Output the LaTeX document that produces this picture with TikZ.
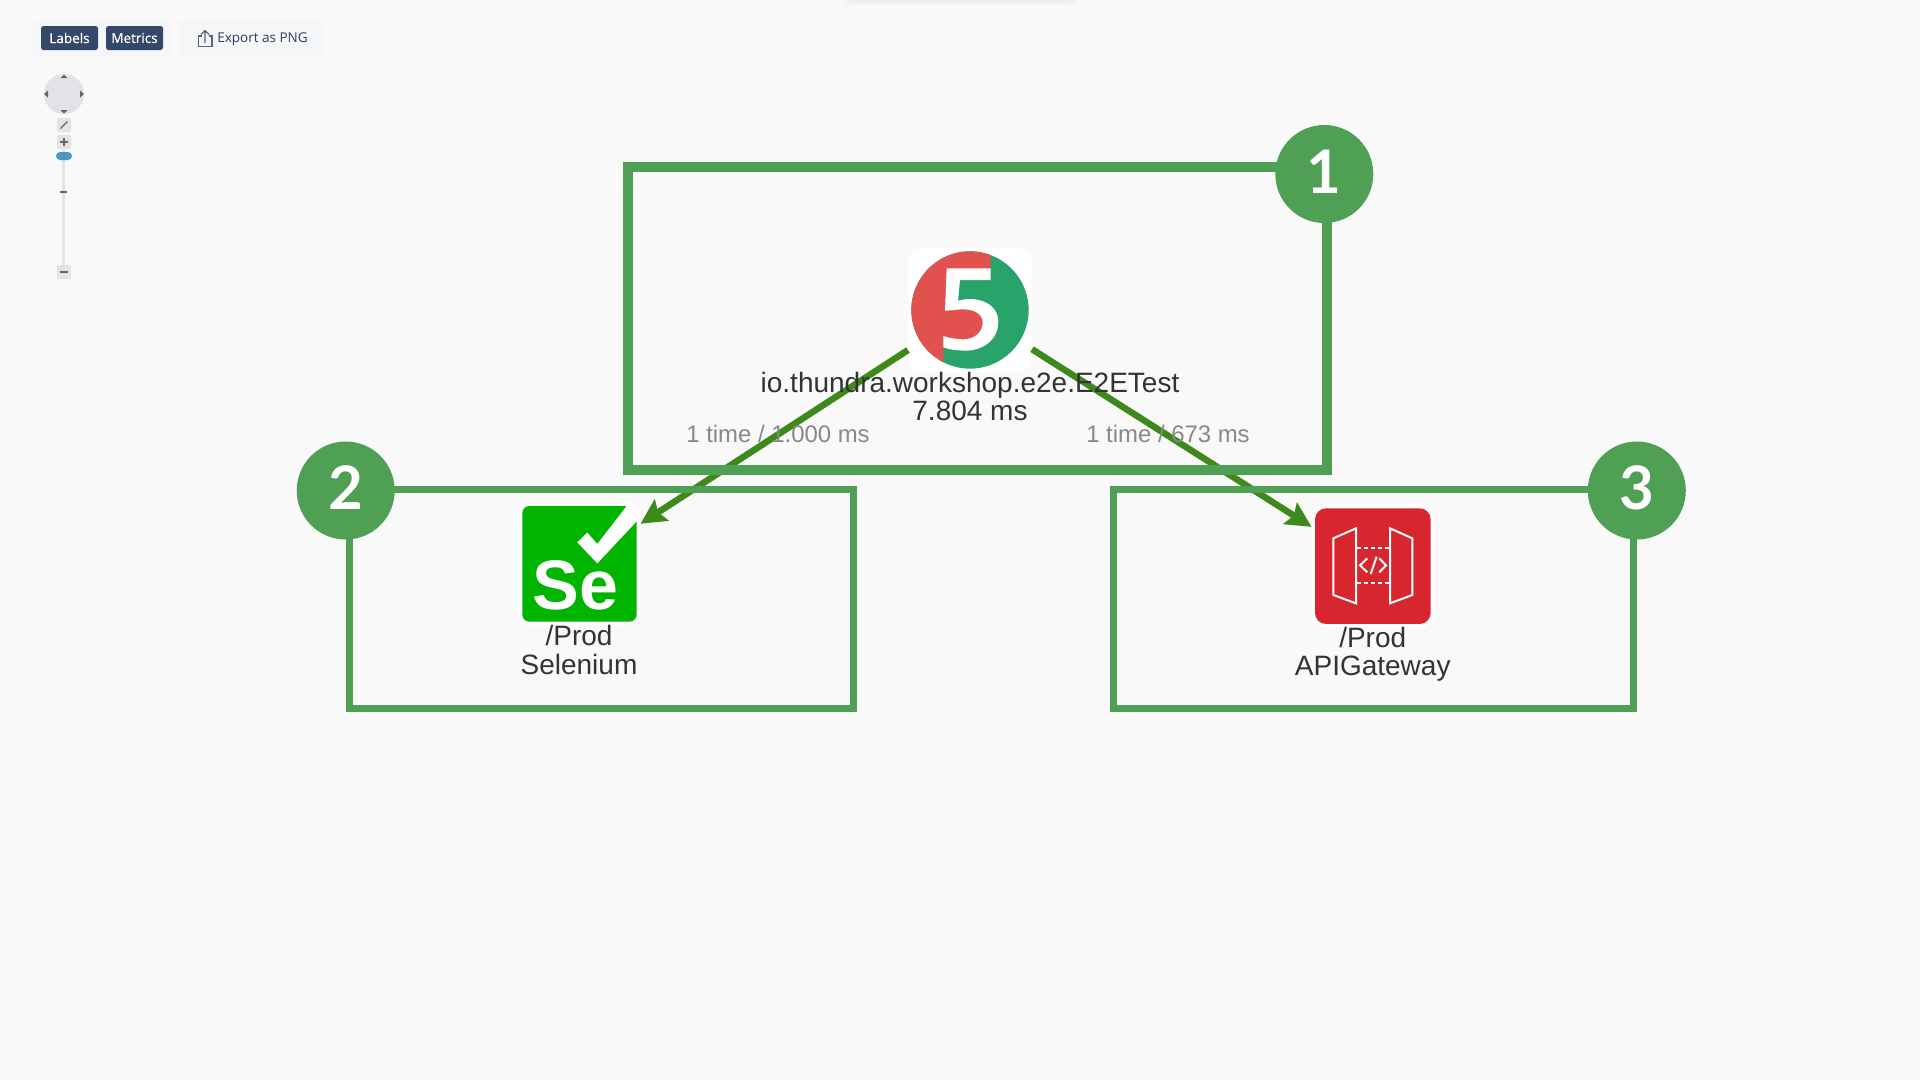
\documentclass[tikz,border=0pt]{standalone}
\usepackage{fontspec}
\setmainfont{Liberation Sans}
\newfontfamily\uifont{Open Sans}
\newfontfamily\btnfont[FakeBold=0.8]{Open Sans}
\newfontfamily\badgefont{Lato}
\usetikzlibrary{arrows.meta,positioning}
\definecolor{pageBg}{HTML}{F9F9F9}
\definecolor{panelBg}{HTML}{F5F6F8}
\definecolor{navyBtn}{HTML}{34486A}
\definecolor{navText}{HTML}{2F3E5C}
\definecolor{navGrey}{HTML}{E3E2E6}
\definecolor{navDark}{HTML}{666666}
\definecolor{sliderBlue}{HTML}{4C96C3}
\definecolor{markGreen}{HTML}{4FA055}
\definecolor{edgeGreen}{HTML}{3D8A1B}
\definecolor{junitRed}{HTML}{E1524F}
\definecolor{junitGreen}{HTML}{28A36A}
\definecolor{seGreen}{HTML}{00B400}
\definecolor{apiRed}{HTML}{D8262E}
\definecolor{nodeText}{HTML}{333333}
\definecolor{edgeText}{HTML}{888888}

\begin{document}
\begin{tikzpicture}
  [x=1pt,y=-1pt,
   iconN/.style={fill=white,rounded corners=13pt,minimum size=123pt,inner sep=0pt,outer sep=0pt},
   nameN/.style={text=nodeText,align=center,inner sep=0pt,font=\fontsize{28}{28.5}\selectfont},
   timeN/.style={text=edgeText,inner sep=0pt,font=\fontsize{23.9}{26}\selectfont},
   flowEdge/.style={edgeGreen,line width=6.5pt,-{Stealth[length=25pt,width=25pt,inset=4pt]}},
   groupN/.style={draw=markGreen,inner sep=0pt,outer sep=0pt},
   badgeN/.style={circle,fill=markGreen,text=white,minimum size=98pt,inner sep=0pt,text height=45pt,text depth=7pt,font=\badgefont\bfseries\fontsize{60}{60}\selectfont},
   panelN/.style={fill=panelBg,rounded corners=3pt,inner sep=0pt},
   btnN/.style={fill=navyBtn,text=white,rounded corners=2.5pt,minimum width=57pt,minimum height=24pt,inner sep=0pt,font=\btnfont\fontsize{13.5}{14}\selectfont},
   zoomBtn/.style={fill=navGrey,rounded corners=2pt,minimum size=14pt,inner sep=0pt},
   whiteLine/.style={white,line width=2pt},
  ]

 \fill[pageBg] (0,0) rectangle (1920,1080);
 % shadow at the top edge
 \foreach \s in {0,1,2,3,4,5}
   \fill[black,opacity=0.006] (843+2*\s,0) rectangle (1078-2*\s,5.5-0.8*\s);

 % toolbar
 \node[panelN,minimum width=138pt,minimum height=36pt] (tools)  at (102,38)  {};
 \node[panelN,minimum width=145pt,minimum height=36pt] (export) at (250.5,38) {};
 \node[btnN] (labels)  at (69.5,38)  {Labels};
 \node[btnN] (metrics) at (134.5,38) {Metrics};
 \node[text=navText,inner sep=0pt,font=\uifont\fontsize{13.5}{14}\selectfont] (exportT) at (262.5,39.5) {Export as PNG};
 \draw[navText!80,line width=1.3pt] (202,36) -- (198.5,36) -- (198.5,46.5) -- (212,46.5) -- (212,36) -- (208.5,36);
 \draw[navText!80,line width=1.3pt] (205,43) -- (205,30.5) (201,34.5) -- (205,30.5) -- (209,34.5);

 % zoom and pan
 \node[circle,fill=navGrey,minimum size=40pt,inner sep=0pt] (pan) at (64,94) {};
 \fill[navDark] (64,74.5) -- (60.5,78) -- (67.5,78) -- cycle;
 \fill[navDark] (64,113.5) -- (60.5,110) -- (67.5,110) -- cycle;
 \fill[navDark] (44,94) -- (48,90.5) -- (48,97.5) -- cycle;
 \fill[navDark] (84,94) -- (80,90.5) -- (80,97.5) -- cycle;
 \fill[navGrey] (62,150) rectangle (65,267);
 \node[zoomBtn] (fit)  at (64,125)   {};
 \node[zoomBtn] (plus) at (64,142)   {};
 \node[zoomBtn] (minus) at (64,272)  {};
 \node[fill=sliderBlue,rounded corners=4pt,minimum width=16pt,minimum height=8pt,inner sep=0pt] (knob) at (64,156) {};
 \fill[navDark] (60,190.7) rectangle (67.3,193.3);
 \draw[navDark,line width=1.2pt] (60.5,128.5) -- (67.5,121.5);
 \draw[navDark,line width=1.6pt] (60,142) -- (68,142) (64,138) -- (64,146);
 \draw[navDark,line width=1.6pt] (60,272) -- (68,272);

 % services
 \node[iconN,minimum size=124pt] (junit) at (970,310) {};
 \node[iconN] (selenium) at (579,563.5) {};
 \node[iconN] (gateway)  at (1373,565.7) {};

 \draw[flowEdge] (junit) -- (selenium);
 \draw[flowEdge] (junit) -- (gateway);

 % junit logo
 \begin{scope}[shift={(880,230)},x=0.3333pt,y=-0.3333pt]
  \fill[junitGreen] (270,240) circle (176);
  \begin{scope}
   \clip (270,240) circle (176);
   \fill[junitRed] (90,55) -- (332,55) -- (332,130) -- (215,130) -- (215,225) -- (280,222)
     -- (325,245) -- (332,278) -- (315,325) -- (260,345) -- (190,335) -- (190,420) -- (90,420) -- cycle;
  \end{scope}
  \fill[white] (200,115) -- (332,115) -- (332,150) -- (240,150) -- (234,212)
    .. controls (300,195) and (355,225) .. (355,275)
    .. controls (355,335) and (300,362) .. (260,362)
    .. controls (230,362) and (205,358) .. (190,352) -- (190,318)
    .. controls (210,325) and (235,328) .. (250,328)
    .. controls (285,328) and (308,305) .. (308,278)
    .. controls (308,250) and (280,238) .. (250,238)
    .. controls (230,238) and (212,242) .. (195,242) -- cycle;
 \end{scope}

 % selenium logo
 \begin{scope}[shift={(500,480)},x=0.3333pt,y=-0.3333pt]
  \fill[seGreen,rounded corners=7pt] (67,78) rectangle (410,425);
  \fill[white] (232,187) -- (262,158) -- (292,192) -- (380,78) -- (412,78) -- (412,122) -- (292,250) -- cycle;
  \node[text=white,inner sep=0pt,font=\bfseries\fontsize{70}{70}\selectfont] (seText) at (226,316) {Se};
 \end{scope}

 % gateway logo
 \begin{scope}[shift={(1290,490)},x=0.3333pt,y=-0.3333pt]
  \fill[apiRed,rounded corners=11pt] (75,55) rectangle (422,402);
  \draw[whiteLine,line join=miter] (130,145) -- (198,115) -- (198,340) -- (130,315) -- cycle;
  \draw[whiteLine,line join=miter] (300,115) -- (367,145) -- (367,315) -- (300,340) -- cycle;
  \draw[whiteLine,dash pattern=on 4pt off 3pt] (200,175) -- (298,175);
  \draw[whiteLine,dash pattern=on 4pt off 3pt] (200,280) -- (298,280);
  \draw[whiteLine] (232,205) -- (210,226) -- (232,247);
  \draw[whiteLine] (260,200) -- (242,252);
  \draw[whiteLine] (268,205) -- (288,226) -- (268,247);
 \end{scope}

 % names and times
 \node[nameN] (junitT)    at (970,396.5)  {io.thundra.workshop.e2e.E2ETest\\7.804 ms};
 \node[nameN] (seleniumT) at (579,650.2)  {/Prod\\Selenium};
 \node[nameN] (gatewayT)  at (1372.7,654) {/Prod\\APIGateway};
 \node[timeN] (timeL) at (778,434)  {1 time / 1.000 ms};
 \node[timeN] (timeR) at (1168,434) {1 time / 673 ms};

 % marks
 \node[groupN,line width=10pt,minimum width=698.7pt,minimum height=303pt] (group1) at (977.35,318.5) {};
 \node[groupN,line width=7pt,minimum width=504pt,minimum height=218.5pt]  (group2) at (601.5,599) {};
 \node[groupN,line width=7pt,minimum width=520pt,minimum height=218.5pt]  (group3) at (1373.5,599) {};
 \node[badgeN] (badge1) at (1324.3,174) {1};
 \node[badgeN] (badge2) at (345.7,490.5) {2};
 \node[badgeN] (badge3) at (1636.8,490.5) {3};

\end{tikzpicture}
\end{document}
